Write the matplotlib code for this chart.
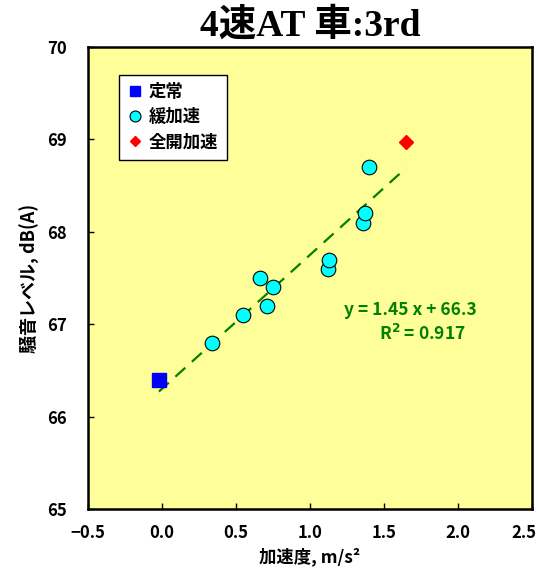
import numpy as np
import matplotlib
matplotlib.use("Agg")
import matplotlib.pyplot as plt
import matplotlib.transforms as mtransforms

plt.rcParams['font.family'] = ['Noto Sans CJK JP', 'DejaVu Sans']
plt.rcParams['font.weight'] = 'bold'

# 定常
x_teijo = [-0.02]
y_teijo = [66.4]

# 緩加速
x_kan = [0.34, 0.55, 0.66, 0.71, 0.75, 1.12, 1.13, 1.36, 1.37, 1.40]
y_kan = [66.8, 67.1, 67.5, 67.2, 67.4, 67.6, 67.7, 68.1, 68.2, 68.7]

# 全開加速
x_zen = [1.65]
y_zen = [68.97]

slope = 1.45
intercept = 66.3
r2 = 0.917

fig = plt.figure(figsize=(5.39, 5.74), dpi=100)
ax = fig.add_axes([0.163, 0.1132, 0.824, 0.8048])
ax.set_facecolor('#FFFF99')

# 回帰直線
x_all = np.array(x_teijo + x_kan + x_zen)
xl = np.array([x_all.min(), x_all.max()])
ax.plot(xl, slope * xl + intercept, '--', color='#008000', lw=1.6,
        dashes=(6, 4), zorder=2)

ax.plot(x_teijo, y_teijo, 's', color='#0000FF', ms=9.5, mec='#0000FF',
        label='定常', zorder=3)
ax.plot(x_kan, y_kan, 'o', color='#00FFFF', ms=10.5, mec='black', mew=0.8,
        label='緩加速', zorder=3)
ax.plot(x_zen, y_zen, 'D', color='#FF0000', ms=7, mec='#FF0000',
        label='全開加速', zorder=3)

ax.set_xlim(-0.5, 2.5)
ax.set_ylim(65, 70)
ax.set_xticks(np.arange(-0.5, 2.51, 0.5))
ax.set_yticks(np.arange(65, 70.1, 1))
ax.set_xticklabels(['−0.5', '0.0', '0.5', '1.0', '1.5', '2.0', '2.5'])
ax.tick_params(direction='in', length=4, width=1, labelsize=12)
ax.tick_params(axis='x', pad=11)
ax.tick_params(axis='y', pad=15)
for lab in ax.get_xticklabels() + ax.get_yticklabels():
    lab.set_fontweight('bold')
# 右端のラベルを少し内側へ
last = ax.get_xticklabels()[-1]
last.set_transform(last.get_transform() +
                   mtransforms.ScaledTranslation(-6 / 72, 0, fig.dpi_scale_trans))
for s in ax.spines.values():
    s.set_linewidth(1.8)

ax.set_xlabel('加速度, m/s²', fontsize=12.5, fontweight='bold', labelpad=4)
ax.set_ylabel('騒音レベル, dB(A)', fontsize=13, fontweight='bold', labelpad=5)

ax.text(1.68, 67.15, 'y = %.2f x + %.1f' % (slope, intercept), color='#008000',
        fontsize=12.5, fontweight='bold', ha='center', va='center')
ax.text(1.76, 66.90, 'R$^\\mathbf{2}$ = %.3f' % r2, color='#008000',
        fontsize=12.5, fontweight='bold', ha='center', va='center')

fig.text(0.575, 0.955, '4速AT 車:3rd', ha='center', va='center',
         fontsize=27, fontweight='bold',
         family=['Liberation Serif', 'Noto Sans CJK JP'])

leg = ax.legend(loc='upper left', bbox_to_anchor=(0.07, 0.94), frameon=True,
                fancybox=False, edgecolor='black', facecolor='white',
                framealpha=1, fontsize=12.5, handlelength=0.8, handletextpad=0.4,
                borderpad=0.5, labelspacing=0.4, numpoints=1, markerscale=0.75,
                borderaxespad=0)
leg.get_frame().set_linewidth(1.0)

fig.savefig('out.png', dpi=100)
